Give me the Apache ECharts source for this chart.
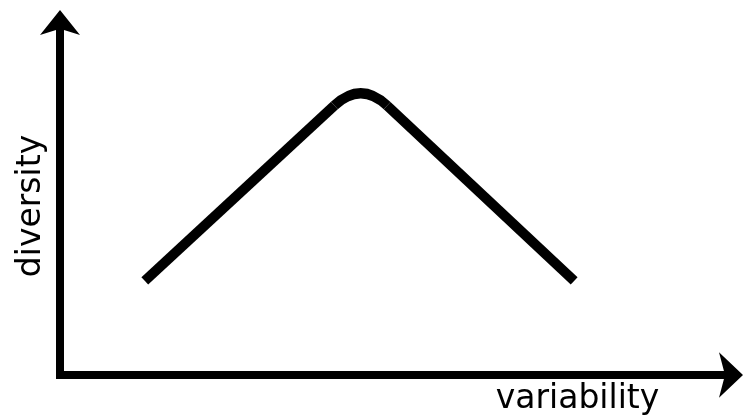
<!DOCTYPE html>
<html>
<head>
<meta charset="utf-8">
<script src="https://cdn.jsdelivr.net/npm/echarts@6/dist/echarts.min.js"></script>
<style>
  html, body { margin: 0; padding: 0; background: #fff; }
  #chart { width: 743px; height: 419px; }
</style>
</head>
<body>
<div id="chart"></div>
<script>
// 折线数据（左端、峰值、右端）
const xVals = [12.6, 44.7, 76.4];
const yVals = [26.5, 82.8, 26.5];
const xName = 'variability';
const yName = 'diversity';

const cornerDist = 36; // 顶点圆角长度（像素）

const chart = echarts.init(document.getElementById('chart'), null, { renderer: 'canvas' });

function renderPeak(params, api) {
  if (params.dataIndex !== 0) return null;
  const p0 = api.coord([xVals[0], yVals[0]]);
  const c = api.coord([xVals[1], yVals[1]]);
  const p2 = api.coord([xVals[2], yVals[2]]);
  // 圆角起止点
  const toward = (from, to, d) => {
    const dx = to[0] - from[0], dy = to[1] - from[1];
    const len = Math.sqrt(dx * dx + dy * dy);
    return [from[0] + dx / len * d, from[1] + dy / len * d];
  };
  const a = toward(c, p0, cornerDist);
  const b = toward(c, p2, cornerDist);
  const style = { stroke: '#000', lineWidth: 10, fill: null, lineCap: 'butt' };
  return {
    type: 'group',
    children: [
      { type: 'line', shape: { x1: p0[0], y1: p0[1], x2: a[0], y2: a[1] }, style },
      { type: 'bezierCurve', shape: { x1: a[0], y1: a[1], cpx1: c[0], cpy1: c[1], x2: b[0], y2: b[1] }, style },
      { type: 'line', shape: { x1: b[0], y1: b[1], x2: p2[0], y2: p2[1] }, style }
    ]
  };
}

const option = {
  animation: false,
  backgroundColor: '#fff',
  grid: { left: 60, right: 10, top: 20, bottom: 44, outerBoundsMode: 'none', containLabel: false },
  xAxis: {
    type: 'value',
    min: 0,
    max: 100,
    name: xName,
    nameLocation: 'middle',
    nameGap: 8,
    nameTextStyle: { fontFamily: 'DejaVu Sans', fontSize: 33, color: '#000', padding: [0, 0, 0, 362] },
    axisLine: {
      show: true,
      symbol: ['none', 'arrow'],
      symbolSize: [34, 24],
      symbolOffset: [0, 10],
      lineStyle: { color: '#000', width: 8, cap: 'square' }
    },
    axisTick: { show: false },
    axisLabel: { show: false },
    splitLine: { show: false }
  },
  yAxis: {
    type: 'value',
    min: 0,
    max: 100,
    name: yName,
    nameLocation: 'middle',
    nameRotate: 90,
    nameGap: 12,
    nameTextStyle: { fontFamily: 'DejaVu Sans', fontSize: 33, color: '#000', padding: [0, 17, 0, 0] },
    axisLine: {
      show: true,
      symbol: ['none', 'arrow'],
      symbolSize: [30, 25],
      symbolOffset: [0, 10],
      lineStyle: { color: '#000', width: 8, cap: 'square' }
    },
    axisTick: { show: false },
    axisLabel: { show: false },
    splitLine: { show: false }
  },
  series: [
    {
      type: 'custom',
      renderItem: renderPeak,
      data: xVals.map((x, i) => [x, yVals[i]]),
      silent: true
    }
  ]
};

chart.setOption(option);
</script>
</body>
</html>
